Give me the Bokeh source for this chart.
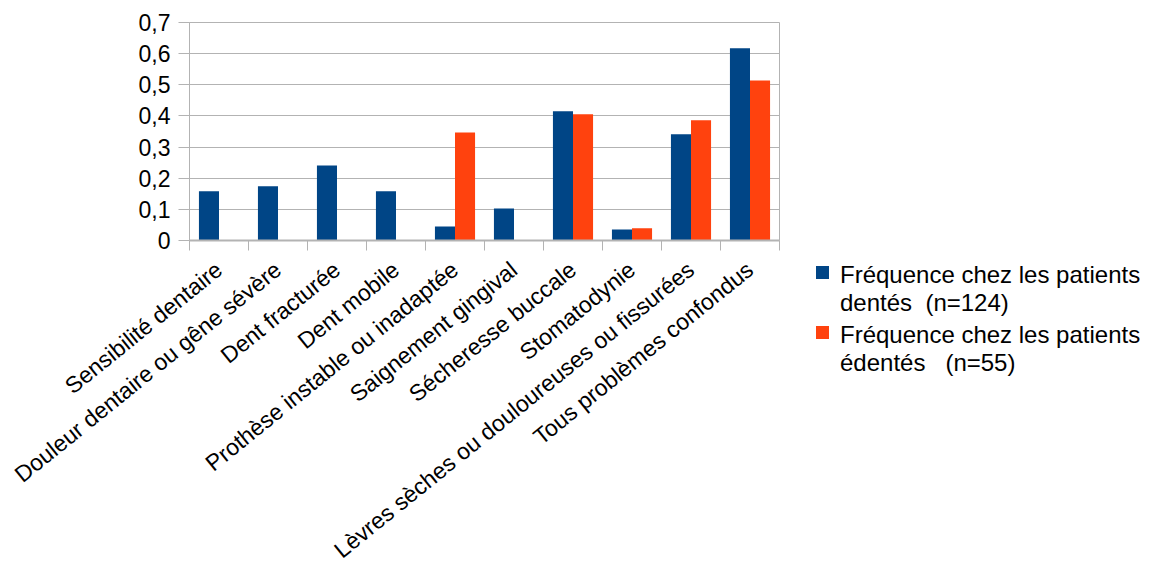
import math
from bokeh.plotting import figure
from bokeh.layouts import row
from bokeh.models import (ColumnDataSource, FactorRange, Range1d, LinearAxis, CategoricalAxis,
                          FixedTicker, CustomLabelingPolicy, Div)
from bokeh.transform import dodge
from bokeh.embed import file_html
from bokeh.resources import INLINE

categories = [
    "Sensibilité dentaire",
    "Douleur dentaire ou gêne sévère",
    "Dent fracturée",
    "Dent mobile",
    "Prothèse instable ou inadaptée",
    "Saignement gingival",
    "Sécheresse buccale",
    "Stomatodynie",
    "Lèvres sèches ou douloureuses ou fissurées",
    "Tous problèmes confondus",
]
dentes = [0.158, 0.174, 0.241, 0.158, 0.045, 0.103, 0.415, 0.035, 0.341, 0.617]
edentes = [0.0, 0.0, 0.0, 0.0, 0.347, 0.0, 0.405, 0.039, 0.386, 0.514]
series_labels = ["Fréquence chez les patients\ndentés  (n=124)",
                 "Fréquence chez les patients\nédentés   (n=55)"]
y_ticks = [0, 0.1, 0.2, 0.3, 0.4, 0.5, 0.6, 0.7]
y_tick_labels = ["0", "0,1", "0,2", "0,3", "0,4", "0,5", "0,6", "0,7"]

BLUE = "#004586"
ORANGE = "#ff420e"
GRID = "#b3b3b3"
FONT = "Liberation Sans"

src = ColumnDataSource(dict(cat=categories, dentes=dentes, edentes=edentes))

p = figure(width=797, height=580,
           x_range=FactorRange(*categories), y_range=Range1d(0, 0.7),
           output_backend="svg", toolbar_location=None, x_axis_location=None,
           min_border_left=189, min_border_top=22, min_border_right=18, min_border_bottom=340)
p.outline_line_color = GRID
p.xgrid.visible = False
p.ygrid.grid_line_color = GRID
p.ygrid.ticker = FixedTicker(ticks=y_ticks)

r1 = p.vbar(x=dodge("cat", -0.17, range=p.x_range), top="dentes", width=0.34, source=src,
            fill_color=BLUE, line_color=None)
r2 = p.vbar(x=dodge("cat", 0.17, range=p.x_range), top="edentes", width=0.34, source=src,
            fill_color=ORANGE, line_color=None)

ya = p.yaxis[0]
ya.ticker = FixedTicker(ticks=y_ticks)
ya.major_label_overrides = {t: l for t, l in zip(y_ticks, y_tick_labels)}
ya.major_tick_out = 11
ya.major_tick_in = 0
ya.minor_tick_line_color = None
ya.axis_line_color = GRID
ya.major_tick_line_color = GRID
ya.major_label_standoff = 8
ya.major_label_text_font = FONT
ya.major_label_text_font_size = "23px"
ya.major_label_text_color = "black"

# ticks at the category boundaries (synthetic coordinates of the factor range), no labels
tick_axis = LinearAxis(ticker=FixedTicker(ticks=list(range(len(categories) + 1))),
                       major_tick_out=10, major_tick_in=0, minor_tick_line_color=None,
                       axis_line_color=GRID, axis_line_width=2, major_tick_line_color=GRID,
                       major_label_policy=CustomLabelingPolicy(code=""),
                       major_label_text_font_size="0px", major_label_standoff=0)
label_axis = CategoricalAxis(major_tick_line_color=None, major_tick_out=0, major_tick_in=0,
                             axis_line_color=None, major_label_orientation=math.radians(39),
                             major_label_standoff=16, major_label_text_font=FONT,
                             major_label_text_font_size="23px", major_label_text_color="black")
p.add_layout(tick_axis, "below")
p.add_layout(label_axis, "below")

# legend, to the right of the chart
items_html = ""
for label, color, gap in zip(series_labels, [BLUE, ORANGE], [5, 0]):
    text = label.replace("  ", "&nbsp;&nbsp;").replace("\n", "<br>")
    items_html += (
        f'<div style="display:flex;align-items:flex-start;margin-bottom:{gap}px;">'
        f'<span style="display:inline-block;flex:none;width:13px;height:13px;'
        f'background:{color};margin-top:5px;margin-right:11px;"></span>'
        f'<span style="white-space:nowrap;">{text}</span></div>'
    )
legend_html = (
    f'<div style="padding-top:256px;padding-left:14px;font-family:\'{FONT}\';'
    f'font-size:24px;line-height:1.15;color:black;">{items_html}</div>'
)
legend_div = Div(text=legend_html, width=370, height=580)

open("out.html", "w").write(file_html(row(p, legend_div), INLINE))
